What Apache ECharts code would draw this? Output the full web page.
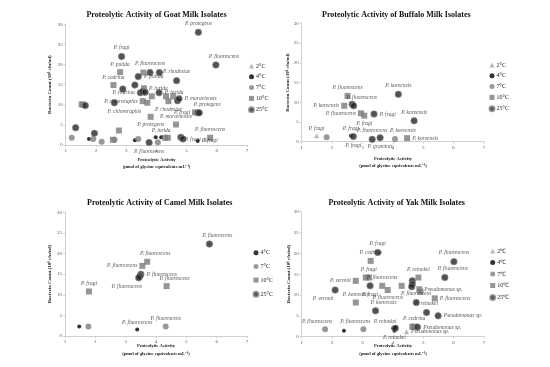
<!DOCTYPE html>
<html><head><meta charset="utf-8">
<script src="https://cdn.jsdelivr.net/npm/echarts@6/dist/echarts.min.js"></script>
<style>html,body{margin:0;padding:0;background:#fff}#c{width:550px;height:367px}</style>
</head><body><div id="c"></div>
<script>
// ---------- data: [x = proteolytic activity, y = bacteria count, label] ----------
const xRange = [1, 7, 1];
const yRange = [0, 30, 5];
const tempsA = ['2°C', '4°C', '7°C', '10°C', '25°C'];
const tempsCamel = ['4°C', '7°C', '10°C', '25°C'];
const tempsYak = ['2℃', '4℃', '7℃', '10℃', '25℃'];
const titles = ['Proteolytic Activity of Goat Milk Isolates', 'Proteolytic Activity of Buffalo Milk Isolates',
  'Proteolytic Activity of Camel Milk Isolates', 'Proteolytic Activity of Yak Milk Isolates'];
const xName1 = 'Proteolytic Activity';
const xName2 = '(μmol of glycine equivalents mL⁻¹)';
const yName = 'Bacteria Count (10⁶ cfu/ml)';

// Goat
const goat2 = [[5.62, 1.4, 'P. fragi']];
const goat4 = [[1.77, 1.5, ''], [3.29, 1.2, ''], [3.98, 1.9, ''], [4.16, 1.9, 'P. lurida'], [5.37, 1.0, 'P. fragi']];
const goat7 = [[1.20, 1.8, ''], [1.91, 1.5, ''], [2.19, 0.8, ''], [2.62, 1.3, ''], [3.40, 1.5, ''], [4.05, 0.7, '']];
const goat10 = [[2.80, 18.1, 'P. putida'], [3.57, 18.0, ''], [2.58, 14.9, 'P. cedrina'], [3.59, 14.1, 'P. lurida'],
  [3.85, 12.1, ''], [4.32, 12.1, ''], [4.56, 12.1, ''], [3.55, 10.9, 'P. chlororaphis'], [3.70, 10.5, ''],
  [4.40, 10.9, 'P. rhodesiae'], [1.53, 10.1, ''], [1.58, 10.0, ''], [5.28, 8.1, 'P. fragi'], [3.81, 7.0, 'P. protegens'],
  [4.65, 5.1, 'P. moraviensis'], [2.76, 3.6, ''], [2.56, 1.3, ''], [4.29, 1.8, ''], [4.38, 1.8, ''], [5.78, 1.8, 'P. fluorescens']];
const goat25 = [[5.39, 28.0, 'P. protegens'], [2.85, 22.0, 'P. fragi'], [5.97, 19.9, 'P. fluorescens'], [3.79, 18.0, 'P. fluorescens'],
  [4.10, 18.0, ''], [3.40, 17.0, 'P. putida'], [4.67, 16.0, 'P. rhodesiae'], [3.29, 14.9, ''], [2.89, 13.9, ''],
  [3.47, 13.0, 'P. cedrina'], [3.55, 13.3, ''], [3.63, 13.1, ''], [4.09, 13.0, 'P. lurida'], [4.70, 11.0, ''],
  [4.75, 11.5, 'P. moraviensis'], [2.61, 10.5, 'P. chlororaphis'], [1.65, 9.8, ''], [5.37, 8.0, ''], [5.42, 8.0, 'P. protegens'],
  [1.33, 4.3, ''], [1.95, 2.9, ''], [3.76, 0.6, 'P. fluorescens'], [4.81, 1.9, ''], [4.88, 1.5, '']];
// Buffalo
const buf2 = [[1.49, 1.5, 'P. fragi']];
const buf4 = [[2.62, 1.5, 'P. fragi']];
const buf7 = [[1.82, 1.1, ''], [4.07, 0.7, 'P. koreensis']];
const buf10 = [[2.51, 11.6, 'P. fluorescens'], [2.40, 9.1, 'P. koreensis'], [2.95, 7.2, 'P. fluorescens'], [3.06, 6.6, 'P. fragi'], [4.47, 0.9, 'P. koreensis']];
const buf25 = [[4.18, 12.0, 'P. koreensis'], [2.66, 9.5, ''], [2.71, 9.1, 'P. fluorescens'], [3.38, 7.0, 'P. fragi'],
  [4.70, 5.3, 'P. koreensis'], [2.70, 1.3, 'P. fragi'], [3.32, 0.6, 'P. fluorescens'], [3.58, 1.0, 'P. graminis']];
// Camel
const cam4 = [[1.47, 2.3, ''], [3.38, 1.6, 'P. fluorescens']];
const cam7 = [[1.77, 2.3, ''], [4.32, 2.3, 'P. fluorescens']];
const cam10 = [[3.71, 18.0, 'P. fluorescens'], [3.55, 17.0, 'P. fluorescens'], [4.35, 12.1, 'P. fluorescens'], [1.79, 10.8, 'P. fragi']];
const cam25 = [[5.76, 22.3, 'P. fluorescens'], [3.50, 15.0, 'P. fluorescens'], [3.47, 14.5, ''], [3.43, 14.1, 'P. fluorescens']];
// Yak
const yak2 = [[4.45, 1.2, 'Pseudomonas sp.']];
const yak4 = [[2.39, 1.4, ''], [4.01, 2.0, 'P. reinekei'], [4.05, 1.4, 'P. reinekei'], [4.10, 2.3, '']];
const yak7 = [[1.77, 1.8, 'P. fluorescens'], [3.03, 1.8, 'P. fluorescens']];
const yak10 = [[3.27, 18.2, 'P. cedrina'], [2.78, 13.4, 'P. veronii'], [3.11, 14.2, ''], [3.21, 14.2, 'P. fragi'],
  [4.84, 14.2, 'P. reinekei'], [3.65, 12.2, 'P. fluorescens'], [3.83, 11.2, 'P. fluorescens'], [4.29, 12.2, ''],
  [4.87, 11.4, 'Pseudomonas sp.'], [4.91, 10.8, ''], [5.38, 9.2, 'P. fluorescens'], [2.78, 8.2, 'P. koreensis'],
  [4.64, 2.4, ''], [4.70, 2.4, 'P. cedrina']];
const yak25 = [[3.50, 20.2, 'P. fragi'], [6.01, 18.0, 'P. fluorescens'], [5.71, 14.2, 'P. fluorescens'], [3.25, 12.2, 'P. fragi'],
  [4.64, 13.4, ''], [4.64, 12.6, ''], [4.62, 12.0, ''], [2.10, 11.2, 'P. veronii'], [4.77, 8.2, 'P. fluorescens'],
  [3.43, 6.2, 'P. koreensis'], [5.11, 5.8, 'P. reinekei'], [5.49, 5.0, 'Pseudomonas sp.'], [4.81, 2.3, 'Pseudomonas sp.'], [4.08, 2.0, '']];

// ---------- label placement (style, parallel to the data arrays) ----------
const P = {
  goat2: ['l'], goat4: ['', '', '', 't', 'r'], goat7: [],
  goat10: ['t', '', 't', 'r', '', '', '', 'l', '', 'b', '', '', 'l', 'b', 't', '', '', '', '', 't'],
  goat25: ['t', 't', 'tr', 't', '', 'r', 't', '', '', 'l', '', '', 'r', '', 'r', 'br', '', '', 'tr', '', '', 'b', '', ''],
  buf2: ['t'], buf4: ['t'], buf7: ['', 'tr'], buf10: ['t', 'l', 'l', 'b', 'r'],
  buf25: ['t', '', 'tr', 'r', 't', 'b', 't', 'b'],
  cam4: ['', 't'], cam7: ['', 't'], cam10: ['tr', 'l', 'tr', 't'], cam25: ['tr', 'r', '', 'bl'],
  yak2: ['r'], yak4: ['', 'tl', 'b', ''], yak7: ['tl', 'tl'],
  yak10: ['t', 'l', '', 't', 't', 't', 'b', '', 'r', '', 'r', 't', '', 't'],
  yak25: ['t', 't', 'tr', 'b', '', '', '', 'bl', 't', 'tr', 't', 'r', 'r', '']
};

const grids = [
  {left: 65.7, top: 24.3, width: 181.3, height: 120.7},
  {left: 301.7, top: 23.3, width: 182.3, height: 118.4},
  {left: 65, top: 212.3, width: 182, height: 123.7},
  {left: 301.7, top: 211.7, width: 182.3, height: 125}
];

const SERIF = 'Liberation Serif';
const styles = [
  {symbol: 'triangle', symbolSize: 5, itemStyle: {color: '#a6a6a6'}},
  {symbol: 'circle', symbolSize: 4, itemStyle: {color: '#000'}},
  {symbol: 'circle', symbolSize: 6, itemStyle: {color: '#808080'}},
  {symbol: 'rect', symbolSize: 6, itemStyle: {color: '#7a7a7a'}},
  {symbol: 'circle', symbolSize: 6.5, itemStyle: {color: '#262626', borderColor: '#8a8a8a', borderWidth: 0.9}}
];
const offs = {t: ['top', [0, 0]], b: ['bottom', [0, 0]], l: ['left', [0, 0]], r: ['right', [0, 0]],
  tr: ['top', [8, 0]], tl: ['top', [-8, 0]], br: ['bottom', [10, 0]], bl: ['bottom', [-12, 0]]};

function mk(name, gi, data, pos, si) {
  const st = styles[si];
  return {
    type: 'scatter', name: name, xAxisIndex: gi, yAxisIndex: gi,
    symbol: st.symbol, symbolSize: st.symbolSize, itemStyle: st.itemStyle,
    emphasis: {disabled: true},
    data: data.map((d, i) => {
      const p = pos[i] || '';
      const o = offs[p];
      return {value: [d[0], d[1]], name: d[2],
        label: o ? {show: true, position: o[0], offset: o[1], distance: 2, formatter: '{b}',
          fontFamily: SERIF, fontStyle: 'italic', fontSize: 5.5, color: '#2a2a2a'} : {show: false}};
    })
  };
}

const series = [
  mk(tempsA[0], 0, goat2, P.goat2, 0), mk(tempsA[1], 0, goat4, P.goat4, 1), mk(tempsA[2], 0, goat7, P.goat7, 2),
  mk(tempsA[3], 0, goat10, P.goat10, 3), mk(tempsA[4], 0, goat25, P.goat25, 4),
  mk(tempsA[0], 1, buf2, P.buf2, 0), mk(tempsA[1], 1, buf4, P.buf4, 1), mk(tempsA[2], 1, buf7, P.buf7, 2),
  mk(tempsA[3], 1, buf10, P.buf10, 3), mk(tempsA[4], 1, buf25, P.buf25, 4),
  mk(tempsCamel[0], 2, cam4, P.cam4, 1), mk(tempsCamel[1], 2, cam7, P.cam7, 2),
  mk(tempsCamel[2], 2, cam10, P.cam10, 3), mk(tempsCamel[3], 2, cam25, P.cam25, 4),
  mk(tempsYak[0], 3, yak2, P.yak2, 0), mk(tempsYak[1], 3, yak4, P.yak4, 1), mk(tempsYak[2], 3, yak7, P.yak7, 2),
  mk(tempsYak[3], 3, yak10, P.yak10, 3), mk(tempsYak[4], 3, yak25, P.yak25, 4)
];

const axisCommon = {
  axisLine: {show: true, lineStyle: {color: '#d0d0d0', width: 1}},
  axisTick: {show: true, length: 2, lineStyle: {color: '#d0d0d0'}},
  axisLabel: {fontSize: 5, color: '#555', fontFamily: SERIF, margin: 3},
  splitLine: {show: false}
};
const xAxes = grids.map((g, i) => Object.assign({type: 'value', gridIndex: i, min: xRange[0], max: xRange[1], interval: xRange[2]}, axisCommon));
const yAxes = grids.map((g, i) => Object.assign({type: 'value', gridIndex: i, min: yRange[0], max: yRange[1], interval: yRange[2]}, axisCommon));

const legendPos = [
  {left: 248, top: 63, gap: 4.8, data: tempsA},
  {left: 488.5, top: 62, gap: 4.8, data: tempsA},
  {left: 252.5, top: 249.7, gap: 7.7, data: tempsCamel},
  {left: 489.2, top: 248, gap: 5.5, data: tempsYak}
];
const legends = legendPos.map(l => ({
  orient: 'vertical', left: l.left, top: l.top, padding: 0, itemGap: l.gap, itemWidth: 5, itemHeight: 5,
  selectedMode: false, data: l.data,
  textStyle: {fontSize: 6, fontFamily: SERIF, color: '#222', lineHeight: 6, padding: [0, 0, 0, -3]}
}));

const titlePos = [[156.5, 15], [396.3, 15], [159.7, 202.7], [396.7, 202.7]];
const yNamePos = [[49.5, 84.6], [288, 82.5], [49.5, 274], [289, 274]];
const xNamePos = [[156.5, 160, 167], [393, 159, 166], [156, 346, 354], [393, 346, 354.3]];
const graphic = [];
titlePos.forEach((p, i) => graphic.push({type: 'text', x: p[0], y: p[1],
  style: {text: titles[i], fontFamily: SERIF, fontWeight: 'bold', fontSize: 8, fill: '#111', align: 'center', verticalAlign: 'middle'}}));
yNamePos.forEach(p => graphic.push({type: 'text', x: p[0], y: p[1], rotation: Math.PI / 2,
  style: {text: yName, fontFamily: SERIF, fontWeight: 'bold', fontSize: 5, fill: '#222', align: 'center', verticalAlign: 'middle'}}));
xNamePos.forEach(p => {
  graphic.push({type: 'text', x: p[0], y: p[1], style: {text: xName1, fontFamily: SERIF, fontWeight: 'bold', fontSize: 4.6, fill: '#222', align: 'center', verticalAlign: 'middle'}});
  graphic.push({type: 'text', x: p[0], y: p[2], style: {text: xName2, fontFamily: SERIF, fontWeight: 'bold', fontSize: 4.6, fill: '#222', align: 'center', verticalAlign: 'middle'}});
});

const chart = echarts.init(document.getElementById('c'), null, {renderer: 'canvas'});
chart.setOption({
  animation: false,
  backgroundColor: '#fff',
  grid: grids, xAxis: xAxes, yAxis: yAxes,
  legend: legends, series: series, graphic: graphic
});
</script></body></html>
